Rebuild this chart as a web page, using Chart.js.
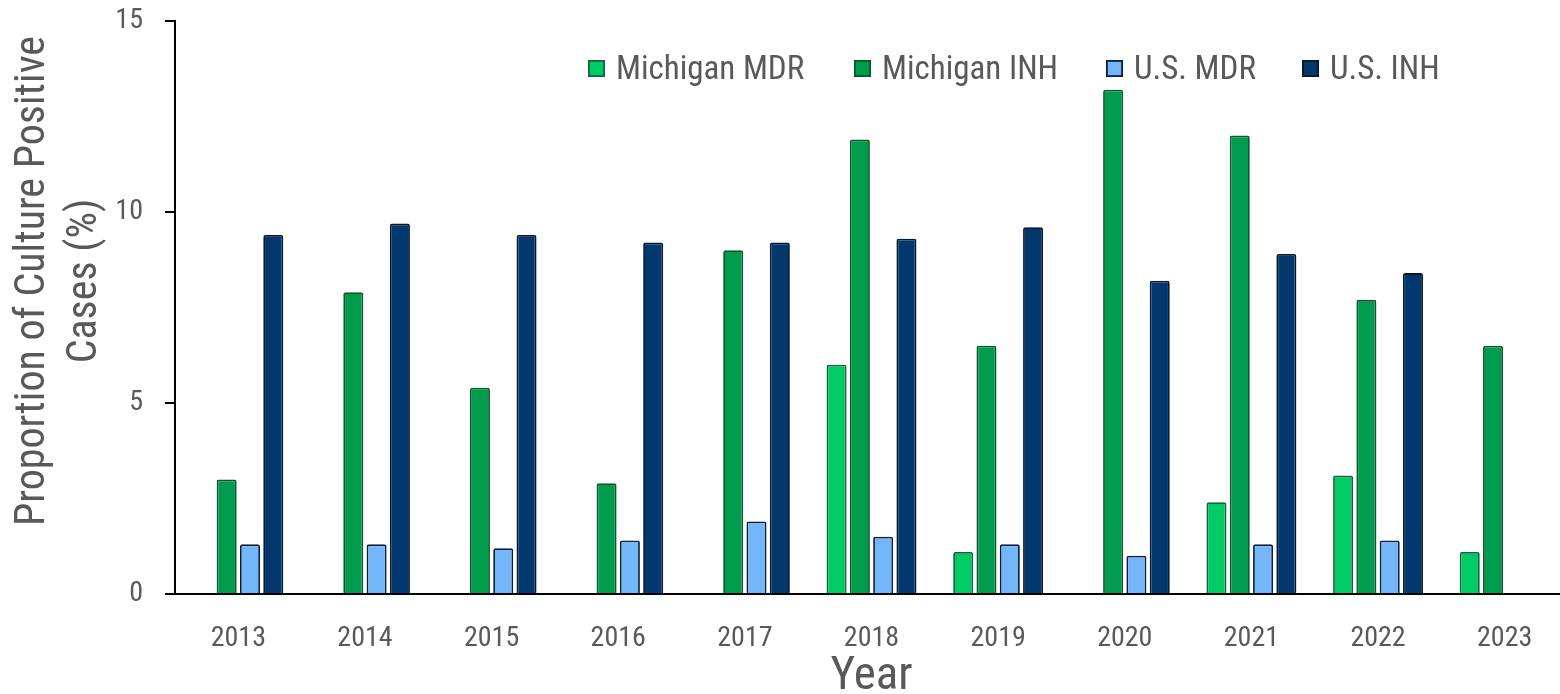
<!DOCTYPE html>
<html>
<head>
<meta charset="utf-8">
<title>Drug-resistant TB, Michigan vs U.S.</title>
<script src="https://cdn.jsdelivr.net/npm/chart.js@4.4.1/dist/chart.umd.min.js"></script>
<style>
  html, body { margin: 0; padding: 0; background: #ffffff; overflow: hidden; }
  #wrap { position: absolute; left: 0; top: 0; width: 1570px; height: 694px; }
</style>
</head>
<body>
<div id="wrap"><canvas id="chart" width="1570" height="694"></canvas></div>
<script>
// Categories (report year)
const years = ['2013', '2014', '2015', '2016', '2017', '2018', '2019', '2020', '2021', '2022', '2023'];

// Percent of culture-positive cases with resistance
const michiganMDR = [null, null, null, null, null, 6.0, 1.1, null, 2.4, 3.1, 1.1];
const michiganINH = [3.0, 7.9, 5.4, 2.9, 9.0, 11.9, 6.5, 13.2, 12.0, 7.7, 6.5];
const usMDR       = [1.3, 1.3, 1.2, 1.4, 1.9, 1.5, 1.3, 1.0, 1.3, 1.4, null];
const usINH       = [9.4, 9.7, 9.4, 9.2, 9.2, 9.3, 9.6, 8.2, 8.9, 8.4, null];

// Y-axis ticks
const yTicks = [0, 5, 10, 15];

const seriesNames = ['Michigan MDR', 'Michigan INH', 'U.S. MDR', 'U.S. INH'];

const FONT = "'Roboto Condensed', 'Liberation Sans Narrow', 'DejaVu Sans Condensed', Roboto, sans-serif";
const TEXT = '#595959';

const styles = [
  { fill: '#00CC66', line: '#17643A' },
  { fill: '#009B4C', line: '#0B5A2E' },
  { fill: '#74B6FA', line: '#0B1F38' },
  { fill: '#02386E', line: '#07192E' }
];

const seriesData = [michiganMDR, michiganINH, usMDR, usINH];

const datasets = seriesData.map((d, i) => ({
  label: seriesNames[i],
  data: d,
  backgroundColor: styles[i].fill,
  borderColor: styles[i].line,
  borderWidth: 1.8,
  borderRadius: 2,
  borderSkipped: 'start',
  barPercentage: 0.86,
  categoryPercentage: 0.736
}));

// Legend row drawn across the upper part of the plot
const legendRow = {
  id: 'legendRow',
  afterDraw(chart) {
    const ctx = chart.ctx;
    const boxX = [588, 854, 1106, 1302];
    const box = 17, top = 60, gap = 11;
    ctx.save();
    ctx.font = '33px ' + FONT;
    ctx.textBaseline = 'alphabetic';
    ctx.textAlign = 'left';
    chart.data.datasets.forEach((ds, i) => {
      ctx.fillStyle = ds.backgroundColor;
      ctx.fillRect(boxX[i], top, box, box);
      ctx.lineWidth = 1.8;
      ctx.strokeStyle = ds.borderColor;
      ctx.strokeRect(boxX[i] + 0.9, top + 0.9, box - 1.8, box - 1.8);
      ctx.fillStyle = TEXT;
      ctx.fillText(ds.label, boxX[i] + box + gap, 79);
    });
    ctx.restore();
  }
};

// Two-line rotated title for the value axis
const yTitle = {
  id: 'yTitle',
  afterDraw(chart) {
    const ctx = chart.ctx;
    const lines = [['Proportion of Culture Positive', 44], ['Cases (%)', 96]];
    ctx.save();
    ctx.font = '42px ' + FONT;
    ctx.fillStyle = TEXT;
    ctx.textAlign = 'center';
    ctx.textBaseline = 'alphabetic';
    lines.forEach(([txt, x]) => {
      ctx.save();
      ctx.translate(x, 281);
      ctx.rotate(-Math.PI / 2);
      ctx.fillText(txt, 0, 0);
      ctx.restore();
    });
    ctx.restore();
  }
};

new Chart(document.getElementById('chart'), {
  type: 'bar',
  data: { labels: years, datasets },
  options: {
    responsive: false,
    animation: false,
    devicePixelRatio: 1,
    layout: { padding: { top: 21, right: 2, bottom: 0, left: 0 } },
    plugins: {
      legend: { display: false },
      tooltip: { enabled: false }
    },
    scales: {
      x: {
        grid: { display: false, drawTicks: false },
        border: { display: true, color: '#000000', width: 2 },
        ticks: {
          color: TEXT,
          font: { family: FONT, size: 28 },
          padding: 28,
          maxRotation: 0
        },
        title: {
          display: true,
          text: 'Year',
          color: TEXT,
          font: { family: FONT, size: 47, lineHeight: 0.72 },
          padding: { top: 0, bottom: 0 }
        },
        afterFit(scale) { scale.height = 100; }
      },
      y: {
        min: 0,
        max: 15,
        afterBuildTicks(scale) { scale.ticks = yTicks.map(v => ({ value: v })); },
        grid: {
          drawOnChartArea: false,
          drawTicks: true,
          tickLength: 10,
          tickColor: '#000000',
          lineWidth: 2
        },
        border: { display: true, color: '#000000', width: 2 },
        ticks: {
          color: TEXT,
          font: { family: FONT, size: 28 },
          padding: 22
        },
        afterFit(scale) {
          scale.width = 175;
          scale.paddingTop = 17;
          scale.paddingBottom = 0;
        }
      }
    }
  },
  plugins: [legendRow, yTitle]
});
</script>
</body>
</html>
